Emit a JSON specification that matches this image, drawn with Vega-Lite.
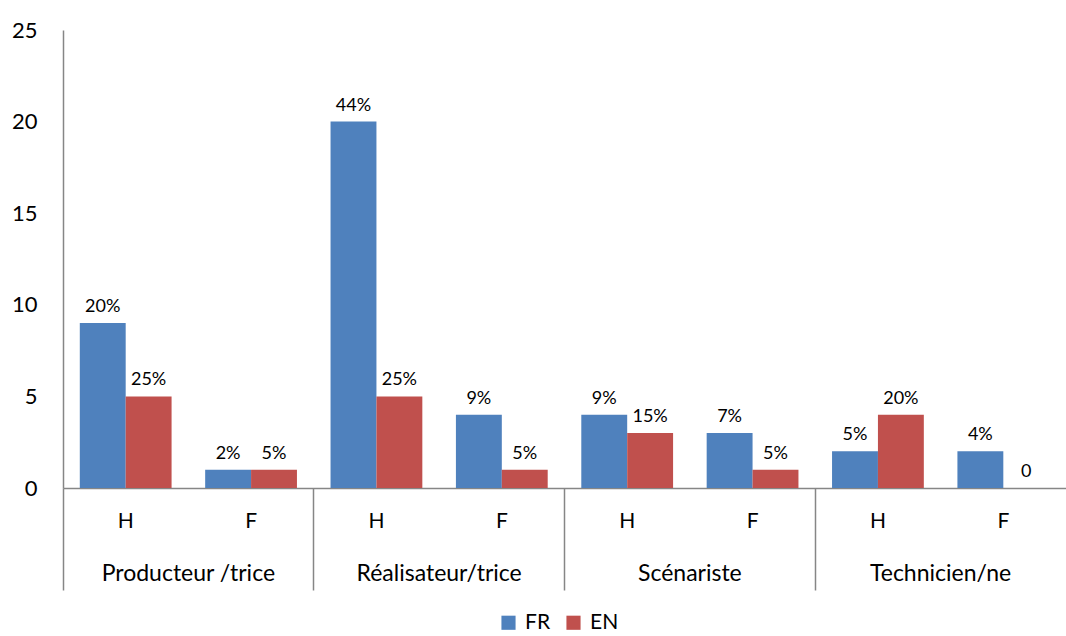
{
  "$schema": "https://vega.github.io/schema/vega-lite/v6.json",
  "autosize": {"type": "none"},
  "padding": {"left": 63, "top": 30, "right": 0, "bottom": 148},
  "width": 1003,
  "height": 458,
  "background": "white",
  "config": {
    "font": "Lato",
    "view": {"stroke": null},
    "axis": {"grid": false, "labelColor": "#000000", "labelFont": "Lato", "titleFont": "Lato"},
    "legend": {"labelFont": "Lato"}
  },
  "data": {
    "values": [
      {"groupe": "Producteur /trice", "sexe": "H", "cat": "Producteur /trice|H", "serie": "FR", "valeur": 9, "etiquette": "20%"},
      {"groupe": "Producteur /trice", "sexe": "H", "cat": "Producteur /trice|H", "serie": "EN", "valeur": 5, "etiquette": "25%"},
      {"groupe": "Producteur /trice", "sexe": "F", "cat": "Producteur /trice|F", "serie": "FR", "valeur": 1, "etiquette": "2%"},
      {"groupe": "Producteur /trice", "sexe": "F", "cat": "Producteur /trice|F", "serie": "EN", "valeur": 1, "etiquette": "5%"},
      {"groupe": "Réalisateur/trice", "sexe": "H", "cat": "Réalisateur/trice|H", "serie": "FR", "valeur": 20, "etiquette": "44%"},
      {"groupe": "Réalisateur/trice", "sexe": "H", "cat": "Réalisateur/trice|H", "serie": "EN", "valeur": 5, "etiquette": "25%"},
      {"groupe": "Réalisateur/trice", "sexe": "F", "cat": "Réalisateur/trice|F", "serie": "FR", "valeur": 4, "etiquette": "9%"},
      {"groupe": "Réalisateur/trice", "sexe": "F", "cat": "Réalisateur/trice|F", "serie": "EN", "valeur": 1, "etiquette": "5%"},
      {"groupe": "Scénariste", "sexe": "H", "cat": "Scénariste|H", "serie": "FR", "valeur": 4, "etiquette": "9%"},
      {"groupe": "Scénariste", "sexe": "H", "cat": "Scénariste|H", "serie": "EN", "valeur": 3, "etiquette": "15%"},
      {"groupe": "Scénariste", "sexe": "F", "cat": "Scénariste|F", "serie": "FR", "valeur": 3, "etiquette": "7%"},
      {"groupe": "Scénariste", "sexe": "F", "cat": "Scénariste|F", "serie": "EN", "valeur": 1, "etiquette": "5%"},
      {"groupe": "Technicien/ne", "sexe": "H", "cat": "Technicien/ne|H", "serie": "FR", "valeur": 2, "etiquette": "5%"},
      {"groupe": "Technicien/ne", "sexe": "H", "cat": "Technicien/ne|H", "serie": "EN", "valeur": 4, "etiquette": "20%"},
      {"groupe": "Technicien/ne", "sexe": "F", "cat": "Technicien/ne|F", "serie": "FR", "valeur": 2, "etiquette": "4%"},
      {"groupe": "Technicien/ne", "sexe": "F", "cat": "Technicien/ne|F", "serie": "EN", "valeur": 0, "etiquette": "0"}
    ]
  },
  "layer": [
    {
      "encoding": {
        "x": {
          "field": "cat", "type": "nominal", "sort": null,
          "scale": {"paddingInner": 0, "paddingOuter": 0},
          "axis": {
            "title": null, "orient": "bottom", "labelAngle": 0,
            "labelExpr": "split(datum.value, '|')[1]",
            "labelFontSize": 21, "labelPadding": 22,
            "ticks": false, "domainColor": "#868686", "domainWidth": 1.5
          }
        },
        "xOffset": {
          "field": "serie", "type": "nominal", "sort": ["FR", "EN"],
          "scale": {"paddingInner": 0, "paddingOuter": 0.366}
        },
        "y": {
          "field": "valeur", "type": "quantitative",
          "scale": {"domain": [0, 25], "nice": false},
          "axis": {
            "title": null, "values": [0, 5, 10, 15, 20, 25],
            "labelFontSize": 22, "labelPadding": 26, "ticks": false,
            "domainColor": "#868686", "domainWidth": 1.5
          }
        }
      },
      "layer": [
        {
          "mark": {"type": "bar"},
          "encoding": {
            "color": {
              "field": "serie", "type": "nominal", "sort": ["FR", "EN"],
              "scale": {"domain": ["FR", "EN"], "range": ["#4F81BD", "#C0504D"]},
              "legend": {
                "title": null, "orient": "none", "direction": "horizontal",
                "legendX": 435, "legendY": 582,
                "symbolType": "square", "symbolSize": 200, "symbolStrokeWidth": 0,
                "labelFontSize": 21, "labelColor": "#000000", "columnPadding": 12, "labelOffset": 6
              }
            }
          }
        },
        {
          "mark": {"type": "text", "baseline": "alphabetic", "dy": -11, "fontSize": 18, "color": "#000000"},
          "encoding": {"text": {"field": "etiquette"}}
        }
      ]
    },
    {
      "mark": {"type": "tick", "opacity": 0},
      "encoding": {
        "x": {
          "field": "groupe", "type": "nominal", "sort": null,
          "scale": {"paddingInner": 0, "paddingOuter": 0},
          "axis": {
            "title": null, "orient": "bottom", "labelAngle": 0,
            "labelFontSize": 23, "labelPadding": -28,
            "bandPosition": 0, "ticks": true, "tickSize": 102,
            "tickColor": "#868686", "tickWidth": 1.5, "domain": false
          }
        }
      }
    }
  ],
  "resolve": {"scale": {"x": "independent"}, "axis": {"x": "independent"}}
}
